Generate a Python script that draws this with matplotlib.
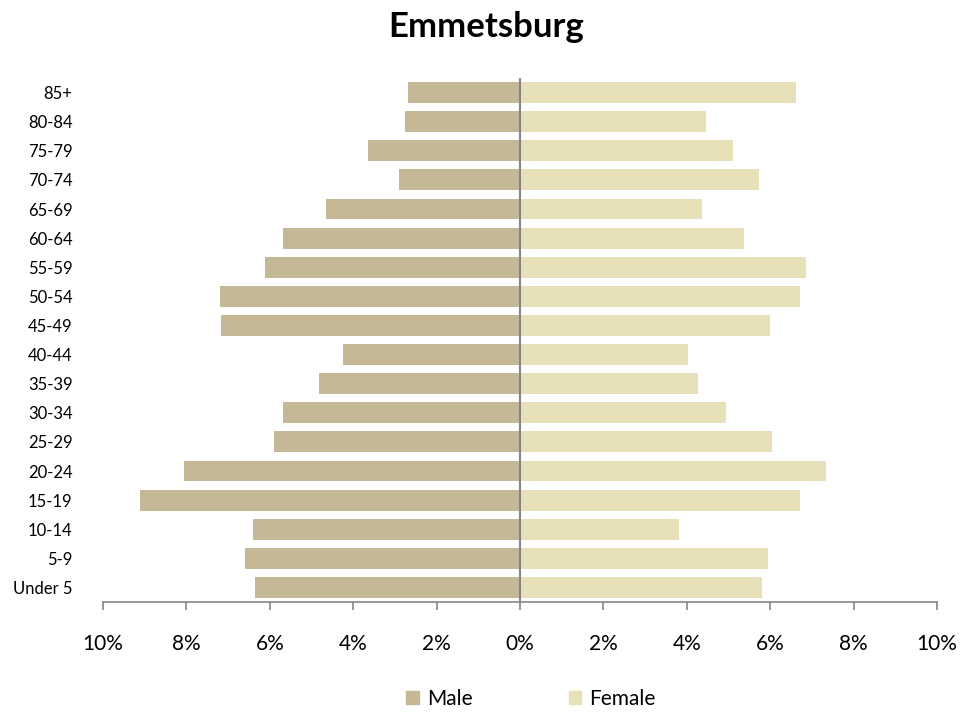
import matplotlib
matplotlib.use("Agg")
import matplotlib.pyplot as plt
from matplotlib.patches import Patch
from matplotlib.ticker import FuncFormatter

age_groups = ["Under 5", "5-9", "10-14", "15-19", "20-24", "25-29", "30-34", "35-39",
              "40-44", "45-49", "50-54", "55-59", "60-64", "65-69", "70-74", "75-79",
              "80-84", "85+"]
male = [6.35, 6.59, 6.40, 9.11, 8.06, 5.90, 5.68, 4.82, 4.24, 7.17, 7.19, 6.12,
        5.68, 4.65, 2.90, 3.65, 2.76, 2.69]
female = [5.80, 5.95, 3.81, 6.71, 7.34, 6.04, 4.94, 4.27, 4.03, 6.00, 6.71, 6.86,
          5.37, 4.36, 5.73, 5.11, 4.46, 6.62]
x_ticks = [-10, -8, -6, -4, -2, 0, 2, 4, 6, 8, 10]

male_color = "#C4B896"
female_color = "#E8E0B8"

plt.rcParams['font.family'] = ['Lato', 'DejaVu Sans']

fig = plt.figure(figsize=(9.79, 7.13), dpi=100)
ax = fig.add_axes([103/979, 1 - 602/713, (937-103)/979, (602-78)/713])

y = list(range(len(age_groups)))
ax.barh(y, [-m for m in male], height=0.72, color=male_color, label="Male")
ax.barh(y, female, height=0.72, color=female_color, label="Female")

ax.set_xlim(-10, 10)
ax.set_ylim(-0.5, len(age_groups) - 0.5)
ax.axvline(0, color="#868686", linewidth=1.5)

for s in ["top", "right", "left"]:
    ax.spines[s].set_visible(False)
ax.spines["bottom"].set_color("#868686")
ax.spines["bottom"].set_linewidth(1.2)

ax.set_xticks(x_ticks)
ax.xaxis.set_major_formatter(FuncFormatter(lambda v, p: f"{abs(int(round(v)))}%"))
ax.tick_params(axis="x", direction="out", length=6, width=1.2, color="#868686",
               pad=17, labelsize=15)
ax.set_yticks(y)
ax.set_yticklabels(age_groups)
ax.tick_params(axis="y", length=0, pad=22, labelsize=12)

fig.text(0.497, 1 - 27/713, "Emmetsburg", ha="center", va="center",
         fontsize=25, fontweight="bold")

handles = [Patch(color=male_color, label="Male"), Patch(color=female_color, label="Female")]
fig.legend(handles=handles, loc="center", bbox_to_anchor=(531/979, 1 - 699/713), ncol=2,
           frameon=False, fontsize=15, handlelength=0.6, handleheight=0.6,
           handletextpad=0.4, columnspacing=4.6)

fig.savefig("out.png", dpi=100)
